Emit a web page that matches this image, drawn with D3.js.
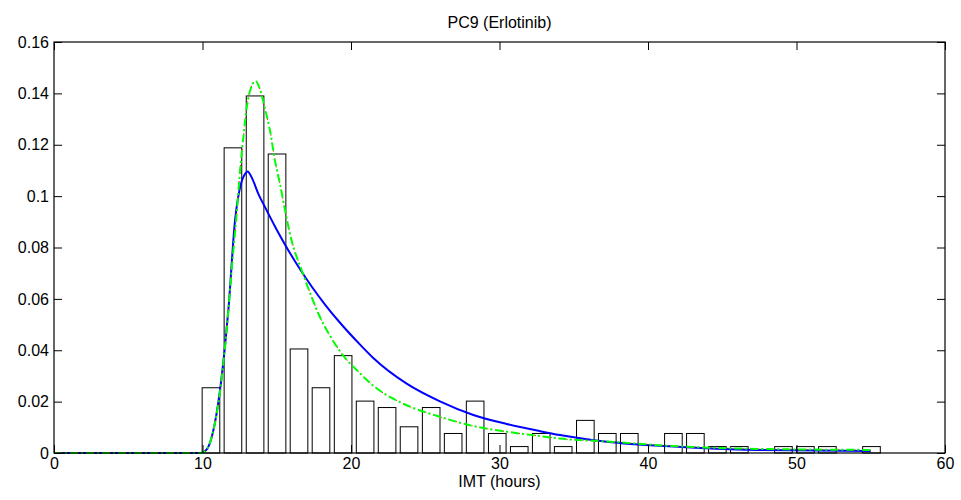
<!DOCTYPE html>
<html>
<head>
<meta charset="utf-8">
<script src="https://cdn.jsdelivr.net/npm/d3@7/dist/d3.min.js"></script>
<style>
  html, body { margin: 0; padding: 0; background: #fff; }
  svg { display: block; }
  text { font-family: "Liberation Sans", Arial, Helvetica, sans-serif; }
</style>
</head>
<body>
<svg id="chart" width="961" height="500"></svg>
<script>
// ---- Data ----
const title = "PC9 (Erlotinib)";
const xLabel = "IMT (hours)";
const xTicks = [0, 10, 20, 30, 40, 50, 60];
const yTicks = [0, 0.02, 0.04, 0.06, 0.08, 0.1, 0.12, 0.14, 0.16];
const yTickLabels = ["0", "0.02", "0.04", "0.06", "0.08", "0.1", "0.12", "0.14", "0.16"];

// histogram bin centers (hours) and densities
const binCenters = [10.57, 12.05, 13.54, 15.02, 16.50, 17.98, 19.47, 20.95, 22.43, 23.91,
                    25.40, 26.88, 28.36, 29.85, 31.33, 32.81, 34.29, 35.78, 37.26, 38.74,
                    40.22, 41.71, 43.19, 44.67, 46.15, 47.64, 49.12, 50.60, 52.08, 53.57, 55.05];
const binValues  = [0.0254, 0.1188, 0.1390, 0.1164, 0.0405, 0.0254, 0.0379, 0.0202, 0.0177, 0.0102,
                    0.0177, 0.0076, 0.0202, 0.0076, 0.0025, 0.0076, 0.0025, 0.0127, 0.0076, 0.0076,
                    0.0000, 0.0076, 0.0076, 0.0025, 0.0025, 0.0000, 0.0025, 0.0025, 0.0025, 0.0000, 0.0025];
const binWidth = 1.483;

// fitted curve 1 (blue, solid)
const blueX = [0, 9.9, 10.3, 10.7, 11.18, 11.51, 11.74, 12.19, 12.53, 12.86, 13.04, 13.31, 13.76,
               14.21, 14.88, 15.56, 16.45, 17.35, 18.25, 19.26, 20.61, 21.5, 23.75, 25.99, 28.24,
               30.48, 32.73, 34.07, 37.22, 41.7, 47.3, 55];
const blueY = [0, 0, 0.0015, 0.008, 0.0245, 0.0413, 0.0555, 0.0905, 0.1034, 0.1086, 0.1096, 0.1073, 0.1009,
               0.0957, 0.0882, 0.0811, 0.0726, 0.0648, 0.0578, 0.0507, 0.0422, 0.0370, 0.0270, 0.0201, 0.0148,
               0.0113, 0.0085, 0.0070, 0.0044, 0.0025, 0.0012, 0.0008];

// fitted curve 2 (green dash-dot, red dotted beneath)
const greenX = [0, 9.9, 10.3, 10.7, 11.18, 11.51, 11.74, 11.96, 12.30, 12.53, 12.75, 12.98, 13.27, 13.58,
                13.87, 14.21, 14.55, 14.88, 15.22, 15.56, 16.0, 16.68, 17.35, 17.80, 18.6, 19.4, 20.61,
                21.5, 23.75, 25.99, 28.24, 30.48, 32.73, 34.07, 37.22, 41.7, 47.3, 55];
const greenY = [0, 0, 0.0015, 0.008, 0.0238, 0.041, 0.0555, 0.0711, 0.0931, 0.1099, 0.1228, 0.1345, 0.1423, 0.1448,
                0.1416, 0.1339, 0.1254, 0.1138, 0.1047, 0.0944, 0.0827, 0.0711, 0.0607, 0.0543, 0.0455, 0.0385, 0.031,
                0.0262, 0.0186, 0.0141, 0.0105, 0.0083, 0.0066, 0.0056, 0.0045, 0.0027, 0.0016, 0.0012];

// ---- Layout ----
const svg = d3.select("#chart");
const m = { left: 54, right: 945, top: 42, bottom: 453 };
const fs = 16;

const x = d3.scaleLinear().domain([0, 60]).range([m.left, m.right]);
const y = d3.scaleLinear().domain([0, 0.16]).range([m.bottom, m.top]);

// bars
svg.append("g").selectAll("rect")
  .data(binCenters.map((c, i) => ({ c, v: binValues[i] })).filter(d => d.v > 0))
  .join("rect")
  .attr("x", d => x(d.c - binWidth * 0.4))
  .attr("width", d => x(d.c + binWidth * 0.4) - x(d.c - binWidth * 0.4))
  .attr("y", d => y(d.v))
  .attr("height", d => y(0) - y(d.v))
  .attr("fill", "#fff")
  .attr("stroke", "#000")
  .attr("stroke-width", 1);

const line = d3.line().x(d => x(d[0])).y(d => y(d[1])).curve(d3.curveMonotoneX);
const blueData = blueX.map((v, i) => [v, blueY[i]]);
const greenData = greenX.map((v, i) => [v, greenY[i]]);

svg.append("path").datum(blueData).attr("d", line)
  .attr("fill", "none").attr("stroke", "#0000ff").attr("stroke-width", 2);
svg.append("path").datum(greenData).attr("d", line)
  .attr("fill", "none").attr("stroke", "#ff0000").attr("stroke-width", 1)
  .attr("stroke-dasharray", "1,3");
svg.append("path").datum(greenData).attr("d", line)
  .attr("fill", "none").attr("stroke", "#00ff00").attr("stroke-width", 2)
  .attr("stroke-dasharray", "8,3,2,3");

// axes
const gx = svg.append("g").attr("transform", `translate(0,${m.bottom})`)
  .call(d3.axisBottom(x).tickValues(xTicks).tickFormat(d3.format("d")).tickSize(-8).tickSizeOuter(0).tickPadding(5));
const gxTop = svg.append("g").attr("transform", `translate(0,${m.top})`)
  .call(d3.axisTop(x).tickValues(xTicks).tickFormat("").tickSize(-8).tickSizeOuter(0));
const gy = svg.append("g").attr("transform", `translate(${m.left},0)`)
  .call(d3.axisLeft(y).tickValues(yTicks).tickFormat((d, i) => yTickLabels[i]).tickSize(-8).tickSizeOuter(0).tickPadding(5));
const gyR = svg.append("g").attr("transform", `translate(${m.right},0)`)
  .call(d3.axisRight(y).tickValues(yTicks).tickFormat("").tickSize(-8).tickSizeOuter(0));
[gx, gxTop, gy, gyR].forEach(g => {
  g.select(".domain").remove();
  g.selectAll("line").attr("stroke", "#000");
  g.selectAll("text").attr("fill", "#000").style("font-size", fs + "px")
    .style("font-family", "'Liberation Sans', Arial, sans-serif");
});

svg.append("rect")
  .attr("x", m.left).attr("y", m.top)
  .attr("width", m.right - m.left).attr("height", m.bottom - m.top)
  .attr("fill", "none").attr("stroke", "#000").attr("stroke-width", 1.2);

// title & label
svg.append("text").attr("x", (m.left + m.right) / 2).attr("y", 28)
  .attr("text-anchor", "middle").style("font-size", fs + "px").text(title);
svg.append("text").attr("x", (m.left + m.right) / 2).attr("y", 487)
  .attr("text-anchor", "middle").style("font-size", fs + "px").text(xLabel);
</script>
</body>
</html>
